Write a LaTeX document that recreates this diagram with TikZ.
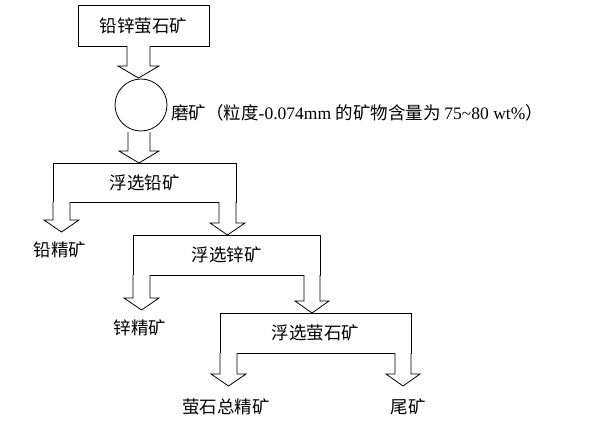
\documentclass[tikz,border=0pt]{standalone}
\usepackage{fontspec}
\setmainfont{Liberation Serif}
\newfontfamily\cjk{Noto Sans CJK SC}
\newcommand\blkarrow[4]{%
  \draw[line width=0.8pt,fill=white] (#1,#3) -- (#1,#4-12) -- (#1-9,#4-12) -- ({(#1+#2)/2},#4) -- (#2+9,#4-12) -- (#2,#4-12) -- (#2,#3);}
\begin{document}
\begin{tikzpicture}[x=1pt,y=-1pt,
  box/.style={draw,line width=0.8pt,inner sep=0pt,font=\cjk\fontsize{17.5}{17.5}\selectfont},
  lbl/.style={inner sep=0pt,font=\cjk\fontsize{17.5}{17.5}\selectfont}]
\useasboundingbox (0,0) rectangle (600,423);
\node[box,minimum width=131,minimum height=41] (b1) at (143.5,25.5) {铅锌萤石矿};
\node[draw,line width=0.8pt,circle,minimum size=52,inner sep=0pt] (mill) at (141,105) {};
\node[anchor=west,inner sep=0pt] (milltxt) at (171,113) {\cjk\fontsize{17.5}{17}\selectfont 磨矿（粒度\rmfamily\fontsize{17.5}{17}\selectfont-0.074mm \cjk\fontsize{17.5}{17}\selectfont 的矿物含量为 \rmfamily\fontsize{17.5}{17}\selectfont75\textasciitilde80 wt\%\cjk\fontsize{17.5}{17}\selectfont）};
\node[box,minimum width=183,minimum height=39] (b2) at (144.5,182.5) {浮选铅矿};
\node[box,minimum width=187,minimum height=40] (b3) at (226.5,255) {浮选锌矿};
\node[box,minimum width=191,minimum height=40] (b4) at (315.5,333) {浮选萤石矿};
\node[lbl] (p1) at (60,250) {铅精矿};
\node[lbl] (p2) at (140,328) {锌精矿};
\node[lbl] (p3) at (226,407) {萤石总精矿};
\node[lbl] (p4) at (408,407) {尾矿};
\blkarrow{127}{150}{46}{78}
\blkarrow{128}{150}{132}{163}
\blkarrow{53}{70}{202}{232}
\blkarrow{219}{236}{202}{235}
\blkarrow{133}{150}{275}{310}
\blkarrow{304}{320}{275}{313}
\blkarrow{220}{237}{353}{386}
\blkarrow{395}{411}{353}{386}
\end{tikzpicture}
\end{document}
